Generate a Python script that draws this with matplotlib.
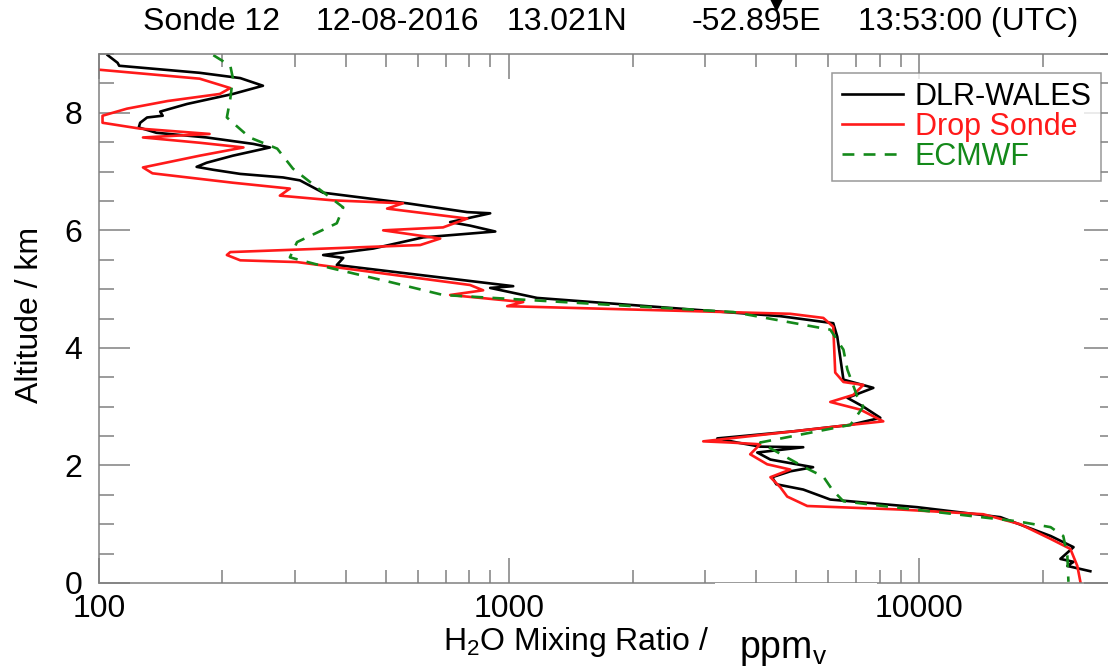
import numpy as np
import matplotlib
matplotlib.use("Agg")
import matplotlib.pyplot as plt
from matplotlib.lines import Line2D
from matplotlib.patches import Rectangle
from matplotlib.ticker import LogLocator, MultipleLocator, FixedLocator

plt.rcParams['font.family'] = ['Liberation Sans', 'DejaVu Sans']

# =============================================================================
# DATA
# =============================================================================
title_parts = ["Sonde 12", "12-08-2016", "13.021N", "-52.895E", "13:53:00 (UTC)"]
series_labels = ["DLR-WALES", "Drop Sonde", "ECMWF"]
x_ticks = [100, 1000, 10000]
x_tick_labels = ["100", "1000", "10000"]
y_ticks = [0, 2, 4, 6, 8]

# DLR-WALES lidar profile (altitude km, H2O ppmv)
wales_alt = [8.98, 8.85, 8.80, 8.68, 8.59, 8.46, 8.32, 8.15, 8.02, 7.95,
             7.92, 7.83, 7.75, 7.66, 7.58, 7.47, 7.41, 7.27, 7.15, 7.08,
             7.03, 6.96, 6.90, 6.85, 6.64, 6.46, 6.31, 6.29, 6.14, 6.08,
             5.98, 5.88, 5.69, 5.58, 5.53, 5.41, 5.24, 5.05, 5.02, 4.85,
             4.54, 4.42, 4.19, 3.46, 3.32, 3.15, 3.00, 2.81, 2.69, 2.58,
             2.46, 2.39, 2.32, 2.31, 2.22, 2.10, 1.97, 1.90, 1.80, 1.68,
             1.59, 1.42, 1.29, 1.12, 0.80, 0.61, 0.41, 0.36, 0.29, 0.20]
wales_h2o = [105, 111, 112, 176, 221, 251, 212, 164, 141, 143,
             131, 126, 125, 138, 183, 238, 261, 212, 183, 173,
             190, 221, 281, 309, 352, 564, 790, 899, 718, 803,
             925, 617, 466, 352, 394, 380, 607, 1023, 899, 1170,
             4581, 6169, 6310, 6531, 7726, 6678, 7303, 8035, 6792, 4928,
             3217, 3597, 4093, 5212, 4027, 4335, 5508, 4846, 4378, 4480,
             5212, 6067, 9886, 15770, 20900, 23770, 22080, 23770, 22960, 26120]

# Drop sonde profile
drop_alt = [8.75, 8.73, 8.58, 8.42, 8.32, 8.20, 8.07, 7.95, 7.83, 7.73,
            7.64, 7.58, 7.49, 7.41, 7.27, 7.07, 6.97, 6.81, 6.71, 6.59,
            6.51, 6.46, 6.37, 6.20, 6.05, 6.00, 5.86, 5.75, 5.63, 5.58,
            5.49, 5.46, 5.07, 4.98, 4.90, 4.78, 4.71, 4.58, 4.51, 4.36,
            3.58, 3.42, 3.37, 3.20, 3.08, 2.95, 2.75, 2.69, 2.58, 2.41,
            2.39, 2.36, 2.19, 2.02, 1.93, 1.80, 1.63, 1.47, 1.31, 1.25,
            1.17, 1.00, 0.75, 0.58, 0.29, 0.02]
drop_h2o = [90, 101, 176, 209, 197, 147, 117, 102, 102, 126,
            186, 128, 176, 225, 176, 128, 135, 212, 292, 276,
            372, 551, 504, 790, 690, 493, 679, 607, 209, 205,
            221, 304, 803, 864, 718, 1082, 989, 4846, 5834, 6169,
            6237, 6531, 7303, 6902, 6067, 7178, 8168, 6792, 4928, 2973,
            3459, 4093, 3870, 4256, 4846, 4335, 4581, 4764, 5330, 8990,
            14320, 17620, 20900, 23350, 24280, 24700]

# ECMWF model profile
ec_alt = [8.98, 8.80, 8.59, 8.24, 7.92, 7.58, 7.39, 7.05, 6.73, 6.39,
          6.12, 5.80, 5.54, 5.36, 5.12, 4.90, 4.81, 4.61, 4.31, 3.97,
          3.63, 3.17, 3.00, 2.69, 2.58, 2.39, 1.98, 1.81, 1.59, 1.39,
          1.31, 1.05, 0.95, 0.80, 0.46, 0.02]
ec_h2o = [190, 209, 212, 209, 205, 233, 272, 297, 340, 394,
          380, 304, 292, 366, 513, 690, 1145, 3519, 6067, 6531,
          6678, 7063, 7303, 6792, 5637, 4093, 5212, 5834, 6130, 6531,
          8168, 17340, 20900, 22440, 22960, 23100]

W, H = 1108, 667
GREEN = '#14891a'
GREY = '#808080'
FS = 23


def fx(px):
    return px / W


def fy(py):
    return 1 - py / H


fig = plt.figure(figsize=(W / 100, H / 100), dpi=100)
# right spine sits just beyond the cropped picture edge
ax = fig.add_axes([fx(99), fy(583), fx(1115) - fx(99), fy(54) - fy(583)])

ax.plot(wales_h2o, wales_alt, color='black', lw=1.9, label=series_labels[0])
ax.plot(drop_h2o, drop_alt, color='#ff1a1a', lw=1.9, label=series_labels[1])
ax.plot(ec_h2o, ec_alt, color=GREEN, lw=1.9, ls=(0, (4.5, 3.5)), label=series_labels[2])

ax.set_xscale('log')
ax.set_xlim(100, 30000)
ax.set_ylim(0, 9)

ax.xaxis.set_major_locator(FixedLocator(x_ticks))
ax.set_xticklabels(x_tick_labels)
ax.xaxis.set_minor_locator(LogLocator(base=10, subs=np.arange(2, 10)))
ax.xaxis.set_minor_formatter(plt.NullFormatter())
ax.yaxis.set_major_locator(FixedLocator(y_ticks))
ax.yaxis.set_minor_locator(MultipleLocator(0.5))

ax.tick_params(which='both', direction='in', top=True, right=True, color=GREY,
               labelsize=FS, width=1.1)
ax.tick_params(axis='x', which='major', length=18, pad=8)
ax.tick_params(axis='x', which='minor', length=9.5)
ax.tick_params(axis='y', which='major', length=22, pad=12)
ax.tick_params(axis='y', which='minor', length=11)
for sp in ax.spines.values():
    sp.set_color(GREY)
    sp.set_linewidth(1.1)

leg = ax.legend(loc='upper right', bbox_to_anchor=(fx(1101), fy(73)),
                bbox_transform=fig.transFigure, fontsize=22, frameon=True,
                fancybox=False, edgecolor=GREY, handlelength=2.0,
                handletextpad=0.4, labelspacing=0.0, borderpad=0.3,
                borderaxespad=0, labelcolor='linecolor')
leg.get_frame().set_linewidth(1.1)

# header line
title_x = [143, 316, 507, 692, 858]
for txt, px in zip(title_parts, title_x):
    fig.text(fx(px), fy(22), txt, fontsize=FS, ha='left', va='center')

fig.text(fx(30), fy(315), 'Altitude / km', fontsize=FS, rotation=90,
         ha='center', va='center')
fig.text(fx(443), fy(642), r'H$\mathregular{_2}$O Mixing Ratio /', fontsize=FS,
         ha='left', va='center')

# white patch over part of the bottom axis, with the unit pasted on top
fig.patches.append(Rectangle((fx(715), 0), fx(877) - fx(715), fy(582.5),
                             transform=fig.transFigure, facecolor='white',
                             edgecolor='none', zorder=5))
fig.text(fx(739), fy(658), r'ppm$\mathregular{_v}$', fontsize=27, ha='left',
         va='baseline', zorder=6)

# small marker at the top edge
fig.add_artist(Line2D([fx(776)], [fy(2)], marker='v', markersize=11,
                      color='black', transform=fig.transFigure))

fig.savefig('out.png', dpi=100)
